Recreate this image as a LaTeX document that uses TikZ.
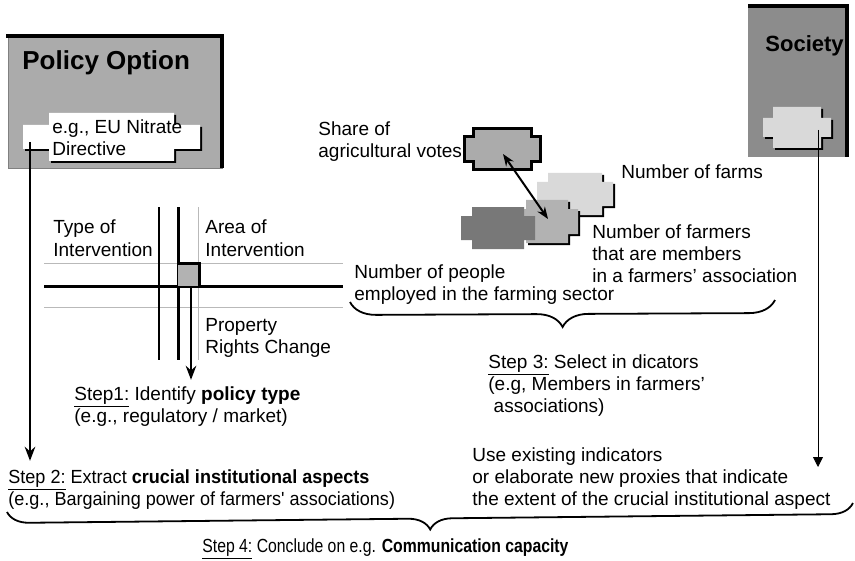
\documentclass[tikz,border=0pt]{standalone}
\usepackage{fontspec}
\setmainfont{Liberation Sans}
\newfontfamily\narrowfont[FakeStretch=0.95]{Liberation Sans}
\newfontfamily\condfont[FakeStretch=0.83]{Liberation Sans}
\usetikzlibrary{arrows.meta,decorations.pathreplacing}

\definecolor{polgray}{HTML}{ABABAB}
\definecolor{socgray}{HTML}{8C8C8C}
\definecolor{palegray}{HTML}{D9D9D9}
\definecolor{midgray}{HTML}{B2B2B2}
\definecolor{darkgray}{HTML}{787878}

% notched plate: x1,y1,x2,y2,notch x,notch y
\newcommand{\notchpath}[6]{({#1+#5},#2) -- ({#3-#5},#2) -- ({#3-#5},{#2+#6}) -- (#3,{#2+#6}) -- (#3,{#4-#6}) -- ({#3-#5},{#4-#6}) -- ({#3-#5},#4) -- ({#1+#5},#4) -- ({#1+#5},{#4-#6}) -- (#1,{#4-#6}) -- (#1,{#2+#6}) -- ({#1+#5},{#2+#6}) -- cycle}

\tikzset{
  lbl/.style={inner sep=0pt, anchor=base west, align=left, font=\fontsize{9.5}{11}\selectfont},
  steplbl/.style={lbl, font=\narrowfont\fontsize{9.5}{11}\selectfont},
  title/.style={inner sep=0pt, anchor=base west, font=\bfseries\fontsize{13}{15}\selectfont},
  thinline/.style={draw=gray!55, line width=0.5pt},
  barline/.style={line width=1.5pt},
  shadow/.style={fill=black, xshift=1pt, yshift=-1pt},
  curly/.style={decorate, decoration={brace, mirror, amplitude=#1}, line width=0.9pt},
}

\begin{document}
\begin{tikzpicture}[x=0.5pt, y=-0.5pt]
  \useasboundingbox (0,0) rectangle (855,561);
  % Policy option box (label nodes sit on the baseline of their last line)
  \filldraw[fill=polgray, draw=gray] (8,36) rectangle (222,168);
  \draw[line width=2pt] (6,36) -- (222,36) -- (222,168);
  \node[title] (poltitle) at (22,70) {Policy Option};
  \fill[shadow] \notchpath{23}{113}{200}{161}{26}{12};
  \fill[white] \notchpath{23}{113}{200}{161}{26}{12};
  \node[lbl] (directive) at (52,156) {e.g., EU Nitrate\\Directive};
  \coordinate (polplate) at (30,142);
  % Society box
  \fill[socgray] (748,6) rectangle (847,157);
  \draw[line width=2pt] (748,6) -- (847,6) -- (847,157);
  \node[title, font=\bfseries\fontsize{11}{13}\selectfont] (soctitle) at (765,52) {Society};
  \fill[shadow] \notchpath{763}{107}{831}{148}{10}{11};
  \fill[palegray] \notchpath{763}{107}{831}{148}{10}{11};
  \coordinate (socplate) at (818,130);
  % Crossing lines
  \draw[thinline] (44,263) -- (343,263);
  \draw[thinline] (44,307) -- (343,307);
  \draw[thinline] (198,207) -- (198,360);
  \draw[barline] (44,286) -- (343,286);
  \draw[line width=1pt] (159,207) -- (159,360);
  \draw[barline] (178,207) -- (178,360);
  \fill[midgray] (178,263) rectangle (199,286);
  \draw[barline] (178,263) -- (199,263) -- (199,286);
  \coordinate (cross) at (191,286);
  \node[lbl] (typeint) at (53,256) {Type of\\Intervention};
  \node[lbl] (areaint) at (205,256) {Area of\\Intervention};
  \node[lbl] (property) at (205,353) {Property\\Rights Change};
  \node[lbl] (step1) at (74,422) {\underline{Step1:} Identify \textbf{policy type}\\(e.g., regulatory / market)};
  % Indicator plates
  \fill[shadow] \notchpath{537}{173}{613}{215}{11}{9};
  \fill[palegray] \notchpath{537}{173}{613}{215}{11}{9};
  \fill[shadow] \notchpath{516}{200}{578}{243}{10}{9};
  \fill[midgray] \notchpath{516}{200}{578}{243}{10}{9};
  \fill[darkgray] \notchpath{461}{207}{535}{249}{11}{9};
  \filldraw[fill=polgray, line width=1.5pt] \notchpath{464}{129}{540}{170}{9}{8};
  \coordinate (votes) at (503,154);
  \coordinate (members) at (548,219);
  \draw[{Stealth[length=6pt]}-{Stealth[length=6pt]}, line width=1pt] (votes) -- (members);
  \node[lbl] (share) at (318,158) {Share of\\agricultural votes};
  \node[lbl] (farms) at (621,178) {Number of farms};
  \node[lbl] (memberlbl) at (592,282) {Number of farmers\\that are members\\in a farmers' association};
  \node[lbl] (people) at (354,300) {Number of people\\employed in the farming sector};
  \draw[curly=13pt] (350,302) -- (775,300);
  \node[lbl] (step3) at (488,412) {\underline{Step 3:} Select in dicators\\(e.g, Members in farmers'\\\ associations)};
  \node[lbl] (useexist) at (472,505) {Use existing indicators\\or elaborate new proxies that indicate\\the extent of the crucial institutional aspect};
  % Steps 2 and 4
  \node[steplbl] (step2) at (8,505) {\underline{Step 2:} Extract \textbf{crucial institutional aspects}\\(e.g., Bargaining power of farmers' associations)};
  \draw[curly=11pt] (7,512) -- (853,503);
  \node[steplbl, font=\condfont\fontsize{9.5}{11}\selectfont] (step4) at (202,552) {\underline{Step 4:} Conclude on e.g. \textbf{Communication capacity}};
  % Arrows
  \draw[-{Stealth[length=7pt]}, line width=1.2pt, shorten >=3pt] (cross) -- (cross |- step1.north);
  \draw[-{Stealth[length=7pt]}, line width=1.2pt, shorten >=4pt] (polplate) -- (polplate |- step2.north);
  \draw[-{Triangle[length=5pt,width=5pt]}, line width=0.4pt] (socplate) -- (818,467);
\end{tikzpicture}
\end{document}
